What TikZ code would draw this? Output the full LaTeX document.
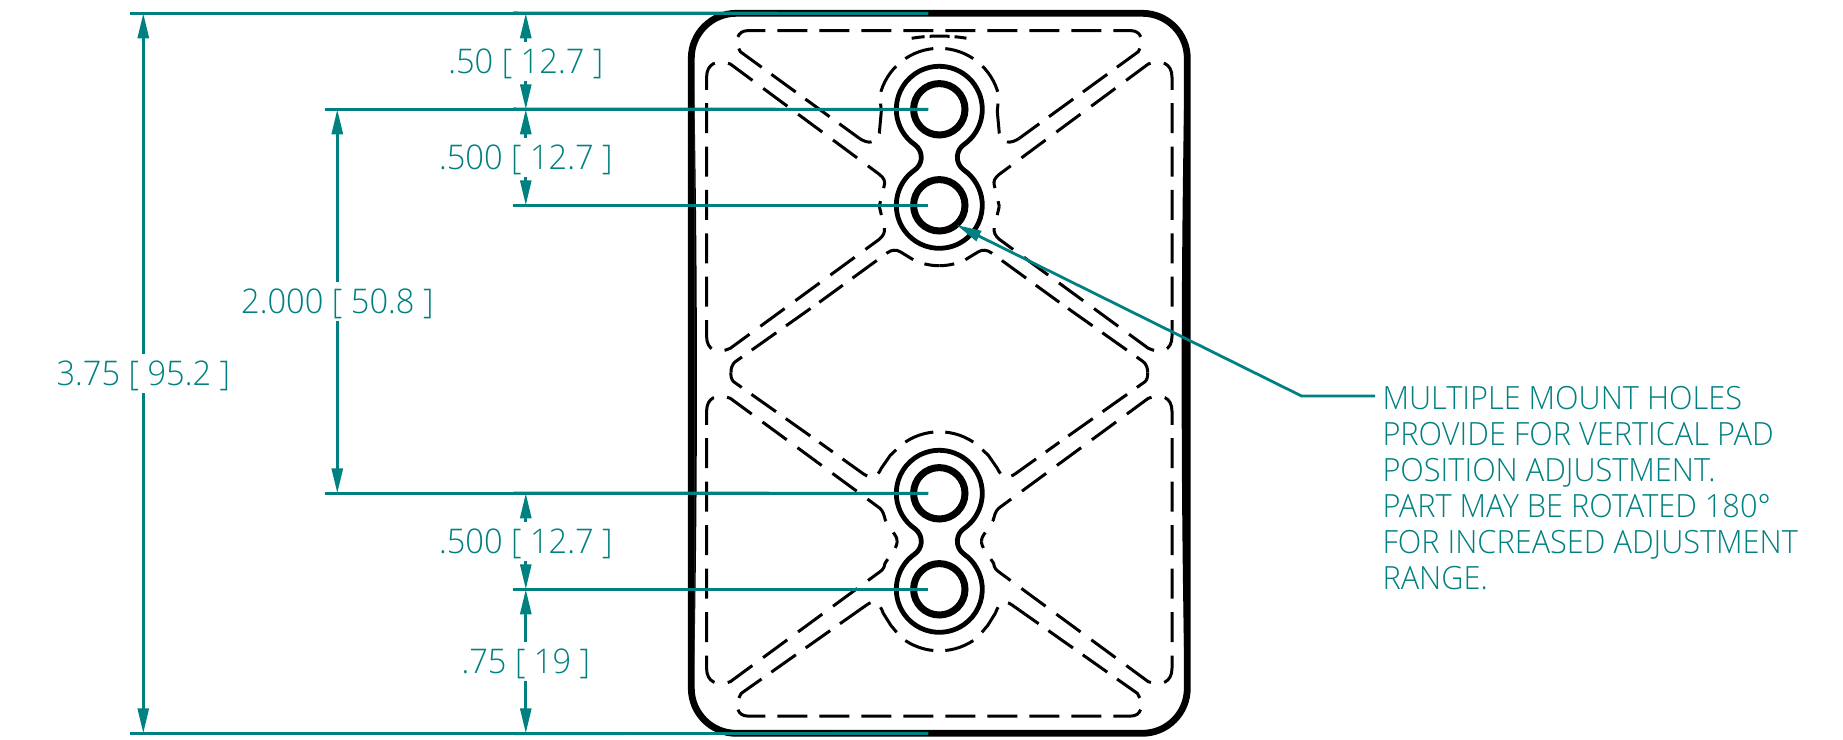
\documentclass[tikz,border=0pt]{standalone}
\usepackage{fontspec}
\setmainfont{Open Sans}[UprightFont={* Light},FakeStretch=0.96]
\usetikzlibrary{arrows.meta, positioning}
\definecolor{dimteal}{RGB}{0,128,128}

\newcommand{\peanutpath}{
  (24.66,12.78) arc[start angle=-55, end angle=235, radius=43]
  arc[start angle=55, end angle=-55, radius=15.6]
  arc[start angle=125, end angle=415, radius=43]
  arc[start angle=235, end angle=125, radius=15.6] -- cycle
}

\begin{document}
\begin{tikzpicture}[x=1pt, y=1pt,
    partline/.style={draw=black, line width=6.8pt},
    padline/.style={draw=black, line width=3pt, dash pattern=on 30pt off 12pt},
    sideline/.style={draw=black, line width=3pt, dash pattern=on 30pt off 13.4pt},
    slotline/.style={draw=black, line width=4.8pt},
    ringline/.style={draw=black, line width=7pt},
    extline/.style={draw=dimteal, line width=2.8pt},
    dimline/.style={draw=dimteal, line width=2.8pt, -{Triangle[length=25pt, width=11pt]}},
    dimtext/.style={text=dimteal, inner sep=0pt, minimum height=39pt, text height=24pt, text depth=0pt, font=\fontsize{34}{36}\selectfont}]

    \useasboundingbox (-939.3,-365.7) rectangle (903.7,373.3);

    \draw[partline, rounded corners=45pt] (-248,-360) rectangle (248,360);
    \fill (-245,280) .. controls (-241.5,90) and (-241.5,-110) .. (-245,-290) -- cycle;
    \fill (245,280) .. controls (241.5,90) and (241.5,-110) .. (245,-290) -- cycle;

    \foreach \s in {1,-1} {
        \begin{scope}[xscale=\s]
            % top pad
            \draw[padline, dash phase=36pt] (0,342.6) -- (192,342.6) .. controls (201,342.6) and (206,333) .. (199,321.6) -- (80,235);
            \draw[padline, dash phase=36pt] (0,325) arc[start angle=90, end angle=13, radius=61] -- (58,262) -- (60,240) .. controls (63,229) and (72,229.5) .. (80,235);
            % side pads, upper
            \draw[sideline] (232.7,153.3) -- (232.7,296) .. controls (232.7,310) and (222,314) .. (209,309.3) -- (60,199) .. controls (55,195) and (54,192) .. (55,188) -- (60,167);
            \draw[sideline] (232.7,140) -- (232.7,37) .. controls (232.7,23) and (222,19) .. (209,25) -- (60,134) .. controls (56,137.5) and (54,141) .. (55,146) -- (60,167);
            % centre pad
            \draw[padline, dash phase=15pt] (0,107.6) arc[start angle=-90, end angle=-65, radius=60.4] -- (39,121.5) .. controls (43,124) and (48,123.5) .. (52,120.5) -- (120,71);
            \draw[padline, dash phase=10pt] (208.3,1) .. controls (208.7,4) and (207,9.5) .. (204,11.6) -- (120,71);
            \draw[padline, dash phase=10pt] (208.3,1) .. controls (208.7,-2) and (208,-6.5) .. (205.7,-8.4) -- (120,-69);
            \draw[padline, dash phase=36pt] (0,-58.5) arc[start angle=90, end angle=51.2, radius=61.5] -- (49,-82) -- (58,-95) .. controls (62,-104) and (68,-106) .. (76,-100.5) -- (120,-69);
            % side pads, lower
            \draw[sideline] (232.7,-181.7) -- (232.7,-38) .. controls (232.7,-24) and (222,-20) .. (209,-25) -- (59.3,-135) .. controls (56,-138) and (55,-143) .. (54,-146.7) -- (44.3,-161.7) .. controls (42,-165) and (42,-168) .. (42.5,-168);
            \draw[sideline] (232.7,-195.4) -- (232.7,-295) .. controls (232.7,-309) and (222,-313) .. (209,-308.4) -- (59.3,-198.4) .. controls (56,-196) and (55,-194) .. (54.3,-190) -- (44.3,-175) .. controls (42,-171) and (42,-168) .. (42.5,-168);
            % bottom pad
            \draw[padline, dash phase=36pt] (0,-342.7) -- (192,-342.7) .. controls (201,-342.7) and (206,-333) .. (198,-320) -- (80,-236.8);
            \draw[padline, dash phase=36pt] (0,-277.5) arc[start angle=-90, end angle=-51.3, radius=61.5] -- (48.5,-252) -- (56,-240) .. controls (60,-229) and (65,-226) .. (72.7,-231.7) -- (80,-236.8);
        \end{scope}
    }
    \draw[draw=black, line width=3pt, dash pattern=on 13pt off 5pt on 20pt off 5pt on 12pt off 100pt] (-27.6,335) .. controls (-10,338) and (10,338) .. (27.6,335);

    \foreach \yy in {216,-168} {
        \draw[slotline, shift={(0,\yy)}] \peanutpath;
    }
    \foreach \yy in {264,168,-120,-216} {
        \node[circle, ringline, minimum size=51.4pt, inner sep=0pt] (hole\yy) at (0,\yy) {};
    }

    \foreach \nm/\xa/\yy in {a/-809/360, b/-614.6/264, c/-425.8/168, d/-614.6/-120, e/-425.8/-216, f/-809/-360} {
        \coordinate (ext\nm) at (\xa,\yy);
        \coordinate (end\nm) at (-11,\yy);
        \draw[extline] (ext\nm) -- (end\nm);
    }
    \draw[extline] (-425.8,360.4) -- (enda);
    \draw[extline] (-425.8,264.4) -- (endb);
    \draw[extline] (-425.8,-119.6) -- (endd);
    \draw[extline] (-425.8,-360.4) -- (endf);

    \node[dimtext] (l375) at (-796,0) {3.75 [ 95.2 ]};
    \node[dimtext] (l2000) at (-602,72) {2.000 [ 50.8 ]};
    \node[dimtext] (l50) at (-413.5,312) {.50 [ 12.7 ]};
    \node[dimtext] (l500a) at (-413.5,216) {.500 [ 12.7 ]};
    \node[dimtext] (l500b) at (-413.5,-168) {.500 [ 12.7 ]};
    \node[dimtext] (l75) at (-413.5,-288) {.75 [ 19 ]};

    \draw[dimline] (l375) -- (l375 |- exta);
    \draw[dimline] (l375) -- (l375 |- extf);
    \draw[dimline] (l2000) -- (l2000 |- extb);
    \draw[dimline] (l2000) -- (l2000 |- extd);
    \draw[dimline] (l50) -- (l50 |- exta);
    \draw[dimline] (l50) -- (l50 |- extb);
    \draw[dimline] (l500a) -- (l500a |- extb);
    \draw[dimline] (l500a) -- (l500a |- extc);
    \draw[dimline] (l500b) -- (l500b |- extd);
    \draw[dimline] (l500b) -- (l500b |- exte);
    \draw[dimline] (l75) -- (l75 |- exte);
    \draw[dimline] (l75) -- (l75 |- extf);

    \node[text=dimteal, anchor=north west, inner sep=0pt, align=left, font=\fontsize{32}{36}\selectfont] (note) at (443,-13) {MULTIPLE MOUNT HOLES\\PROVIDE FOR VERTICAL PAD\\POSITION ADJUSTMENT.\\PART MAY BE ROTATED 180°\\FOR INCREASED ADJUSTMENT\\RANGE.};
    \coordinate (ldrstart) at (435.8,-22.7);
    \coordinate (ldrelbow) at (362.2,-22.7);
    \coordinate (ldrtip) at (17.3,148.3);
    \draw[dimline] (ldrstart) -- (ldrelbow) -- (ldrtip);
\end{tikzpicture}
\end{document}
